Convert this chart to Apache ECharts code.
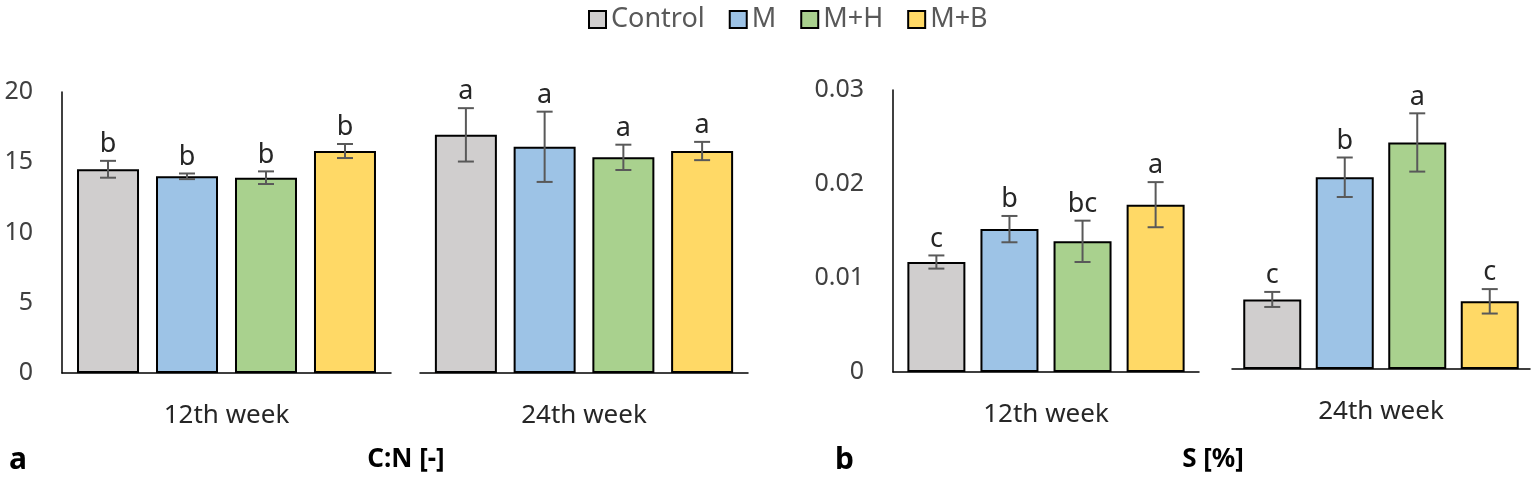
<!DOCTYPE html>
<html>
<head>
<meta charset="utf-8">
<script src="https://cdn.jsdelivr.net/npm/echarts@6/dist/echarts.min.js"></script>
<style>html,body{margin:0;padding:0;background:#fff;}#c{width:1534px;height:478px;}</style>
</head>
<body>
<div id="c"></div>
<script>
// ---- data ----
const treatments = ['Control', 'M', 'M+H', 'M+B'];
const weekLabels = ['12th week', '24th week'];
const cnMean12 = [14.5, 14.0, 13.9, 15.8];
const cnErr12 = [0.6, 0.2, 0.45, 0.5];
const cnLetters12 = ['b', 'b', 'b', 'b'];
const cnMean24 = [16.95, 16.1, 15.35, 15.8];
const cnErr24 = [1.9, 2.5, 0.9, 0.65];
const cnLetters24 = ['a', 'a', 'a', 'a'];
const sMean12 = [0.0117, 0.0152, 0.0139, 0.0178];
const sErr12 = [0.0007, 0.0014, 0.0022, 0.0024];
const sLetters12 = ['c', 'b', 'bc', 'a'];
const sMean24 = [0.0074, 0.0204, 0.0241, 0.0072];
const sErr24 = [0.0008, 0.0021, 0.0031, 0.0013];
const sLetters24 = ['c', 'b', 'a', 'c'];
const cnTicks = { min: 0, max: 20, interval: 5 };
const sTicks = { min: 0, max: 0.03, interval: 0.01 };

// ---- styles ----
const colors = ['#D0CECE', '#9DC3E6', '#A9D18E', '#FFD966'];
const FONT = '"Noto Sans", "Open Sans", sans-serif';

const panels = [
  { mean: cnMean12, err: cnErr12, letters: cnLetters12, week: weekLabels[0], ticks: cnTicks, showY: true,
    grid: { left: 62, top: 92, width: 329, height: 281 }, bw: 62, gap: 0.274 },
  { mean: cnMean24, err: cnErr24, letters: cnLetters24, week: weekLabels[1], ticks: cnTicks, showY: false,
    grid: { left: 420, top: 92, width: 328, height: 281 }, bw: 62, gap: 0.27 },
  { mean: sMean12, err: sErr12, letters: sLetters12, week: weekLabels[0], ticks: sTicks, showY: true,
    grid: { left: 893, top: 90, width: 306, height: 282 }, bw: 58, gap: 0.26 },
  { mean: sMean24, err: sErr24, letters: sLetters24, week: weekLabels[1], ticks: sTicks, showY: false,
    grid: { left: 1232, top: 87, width: 298, height: 282 }, bw: 58, gap: 0.25 }
];

const grids = [], xAxes = [], yAxes = [], series = [];
panels.forEach((p, g) => {
  grids.push(Object.assign({ containLabel: false }, p.grid));
  xAxes.push({
    type: 'category', gridIndex: g, data: [p.week],
    axisLine: { show: true, lineStyle: { color: '#000', width: 1.5 } },
    axisTick: { show: false },
    axisLabel: { fontFamily: FONT, fontSize: 26, color: '#262626', margin: 30 }
  });
  yAxes.push({
    type: 'value', gridIndex: g, min: p.ticks.min, max: p.ticks.max, interval: p.ticks.interval,
    show: p.showY,
    axisLine: { show: true, lineStyle: { color: '#000', width: 1.5 } },
    axisTick: { show: false },
    splitLine: { show: false },
    axisLabel: { fontFamily: FONT, fontSize: 25, color: '#404040', margin: 29 }
  });
  treatments.forEach((t, i) => {
    series.push({
      name: t, type: 'bar', xAxisIndex: g, yAxisIndex: g,
      data: [p.mean[i]], barWidth: p.bw, barGap: (p.gap * 100) + '%',
      itemStyle: { color: colors[i], borderColor: '#000', borderWidth: 2 },
      emphasis: { disabled: true }
    });
  });
  const bw = p.bw, gap = p.gap;
  series.push({
    type: 'custom', xAxisIndex: g, yAxisIndex: g, z: 10,
    data: treatments.map((t, i) => [0, i, p.mean[i], p.err[i]]),
    encode: { x: 0, y: 2 },
    renderItem: function (params, api) {
      const idx = api.value(1), m = api.value(2), e = api.value(3);
      const c = api.coord([0, m]);
      const total = 4 * bw + 3 * gap * bw;
      const x = c[0] - total / 2 + idx * (bw + gap * bw) + bw / 2;
      const yHi = api.coord([0, m + e])[1];
      const yLo = api.coord([0, m - e])[1];
      const cap = 8;
      const ls = { stroke: '#595959', lineWidth: 2 };
      return {
        type: 'group',
        children: [
          { type: 'line', shape: { x1: x, y1: yHi, x2: x, y2: yLo }, style: ls },
          { type: 'line', shape: { x1: x - cap, y1: yHi, x2: x + cap, y2: yHi }, style: ls },
          { type: 'line', shape: { x1: x - cap, y1: yLo, x2: x + cap, y2: yLo }, style: ls },
          { type: 'text', style: { x: x, y: yHi - 3, text: p.letters[idx], fill: '#262626',
              font: '27px ' + FONT, textAlign: 'center', textVerticalAlign: 'bottom' } }
        ]
      };
    }
  });
});

const chart = echarts.init(document.getElementById('c'), null, { renderer: 'canvas' });
chart.setOption({
  animation: false,
  backgroundColor: '#fff',
  legend: {
    data: treatments, top: 1, left: 583, itemWidth: 17, itemHeight: 17, itemGap: 24, icon: 'rect',
    textStyle: { fontFamily: FONT, fontSize: 27, color: '#595959' }, selectedMode: false
  },
  grid: grids, xAxis: xAxes, yAxis: yAxes, series: series,
  graphic: [
    { type: 'text', left: 9, top: 445, style: { text: 'a', font: 'bold 30px ' + FONT, fill: '#000' } },
    { type: 'text', x: 406, y: 460, style: { text: 'C:N [-]', font: 'bold 26px ' + FONT, fill: '#000', textAlign: 'center', textVerticalAlign: 'middle' } },
    { type: 'text', left: 835, top: 445, style: { text: 'b', font: 'bold 30px ' + FONT, fill: '#000' } },
    { type: 'text', x: 1213, y: 460, style: { text: 'S [%]', font: 'bold 26px ' + FONT, fill: '#000', textAlign: 'center', textVerticalAlign: 'middle' } }
  ]
});
</script>
</body>
</html>
